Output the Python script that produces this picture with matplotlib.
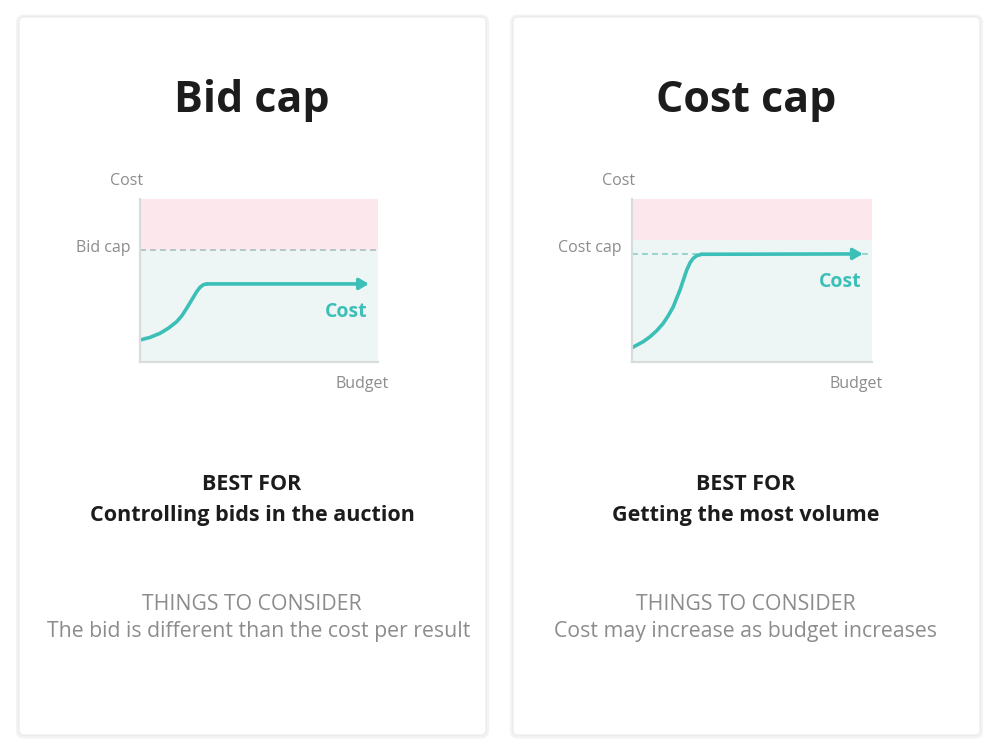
import matplotlib
matplotlib.use("Agg")
import matplotlib.pyplot as plt
from matplotlib.patches import FancyBboxPatch

plt.rcParams['font.family'] = ['Open Sans', 'DejaVu Sans']

# ---- data (chart units 0..10 on both axes) ----
titles = ["Bid cap", "Cost cap"]
cap_labels = ["Bid cap", "Cost cap"]
best_for = ["Controlling bids in the auction", "Getting the most volume"]
consider = ["The bid is different than the cost per result",
            "Cost may increase as budget increases"]

pink_from = [6.87, 7.48]     # where the red "too high" band starts
cap_level = [6.87, 6.63]     # dashed cap line

bid_x = [0.0, 0.42, 0.84, 1.19, 1.54, 1.75, 1.96, 2.17, 2.38, 2.52, 2.66, 2.80, 9.62]
bid_y = [1.35, 1.51, 1.76, 2.07, 2.47, 2.82, 3.29, 3.80, 4.31, 4.58, 4.74, 4.79, 4.79]
costcap_x = [0.0, 0.47, 0.75, 1.03, 1.30, 1.51, 1.72, 1.86, 2.00, 2.14, 2.28,
             2.42, 2.55, 2.70, 2.90, 9.62]
costcap_y = [0.88, 1.25, 1.55, 1.92, 2.37, 2.84, 3.39, 3.91, 4.42, 5.03, 5.64,
             6.09, 6.36, 6.52, 6.61, 6.63]
curves = [(bid_x, bid_y), (costcap_x, costcap_y)]

teal = "#3bbfb7"
pink = "#fce8ec"
mint = "#eef6f5"
grey_txt = "#8c8c8c"
dash_col = ["#a9bdbc", "#86cfca"]

W, H = 1000, 749
fig = plt.figure(figsize=(10, 7.49), dpi=100)
fig.patch.set_facecolor("white")

bg = fig.add_axes([0, 0, 1, 1])
bg.set_xlim(0, W)
bg.set_ylim(H, 0)
bg.axis("off")

card_x = [19, 513]
card_w = 467
centers = [252, 746]
consider_x = [259, 746]
for i in range(2):
    # soft shadow then the card
    sh = FancyBboxPatch((card_x[i] - 1, 16.5), card_w + 2, 720,
                        boxstyle="round,pad=0,rounding_size=6",
                        fc="none", ec="#f3f3f3", lw=3, zorder=1)
    bg.add_patch(sh)
    card = FancyBboxPatch((card_x[i], 17), card_w, 718,
                          boxstyle="round,pad=0,rounding_size=5",
                          fc="white", ec="#e8e8e8", lw=0.7, zorder=2)
    bg.add_patch(card)
    cx = centers[i]
    bg.text(cx, 100, titles[i], ha="center", va="center", fontsize=31,
            fontweight="bold", color="#1c1c1c", zorder=3)
    bg.text(cx, 485, "BEST FOR", ha="center", va="center", fontsize=15.5,
            fontweight="bold", color="#1c1c1c", zorder=3)
    bg.text(cx, 516, best_for[i], ha="center", va="center", fontsize=15.5,
            fontweight="bold", color="#1c1c1c", zorder=3)
    bg.text(cx, 604, "THINGS TO CONSIDER", ha="center", va="center",
            fontsize=15.3, color=grey_txt, zorder=3)
    bg.text(consider_x[i], 632, consider[i], ha="center", va="center",
            fontsize=15.3, color=grey_txt, zorder=3)

# chart boxes in pixels: left, top, right, bottom
boxes = [(140, 199, 378, 362), (632, 199, 872, 362)]
for i in range(2):
    l, t, r, b = boxes[i]
    ax = fig.add_axes([l / W, 1 - b / H, (r - l) / W, (b - t) / H])
    ax.set_xlim(0, 10)
    ax.set_ylim(0, 10)
    ax.axhspan(pink_from[i], 10, color=pink, lw=0)
    ax.axhspan(0, pink_from[i], color=mint, lw=0)
    ax.axhline(cap_level[i], color=dash_col[i], lw=1.2, ls=(0, (3.5, 2.5)))
    for s in ["top", "right"]:
        ax.spines[s].set_visible(False)
    for s in ["left", "bottom"]:
        ax.spines[s].set_color("#d9dcdc")
        ax.spines[s].set_linewidth(1.6)
    ax.set_xticks([])
    ax.set_yticks([])

    xs, ys = curves[i]
    ax.plot(xs[:-1], ys[:-1], color=teal, lw=2.6, solid_capstyle="round",
            solid_joinstyle="round")
    ax.annotate("", xy=(xs[-1], ys[-1]), xytext=(xs[-2], ys[-2]),
                arrowprops=dict(arrowstyle="-|>,head_length=0.55,head_width=0.32",
                                color=teal, lw=2.6, shrinkA=0, shrinkB=0))
    ax.text(xs[-1] - 0.05, ys[-1] - 1.7, "Cost", ha="right", va="center",
            fontsize=14, fontweight="bold", color=teal)

    # axis words around the chart
    bg.text(l - 13, 181, "Cost", ha="center", va="center", fontsize=11.5,
            color=grey_txt)
    bg.text(l - 10, 248, cap_labels[i], ha="right", va="center",
            fontsize=11.5, color=grey_txt)
    bg.text(r - 16, b + 22, "Budget", ha="center", va="center",
            fontsize=11.5, color=grey_txt)

fig.savefig("out.png", dpi=100, facecolor=fig.get_facecolor())
